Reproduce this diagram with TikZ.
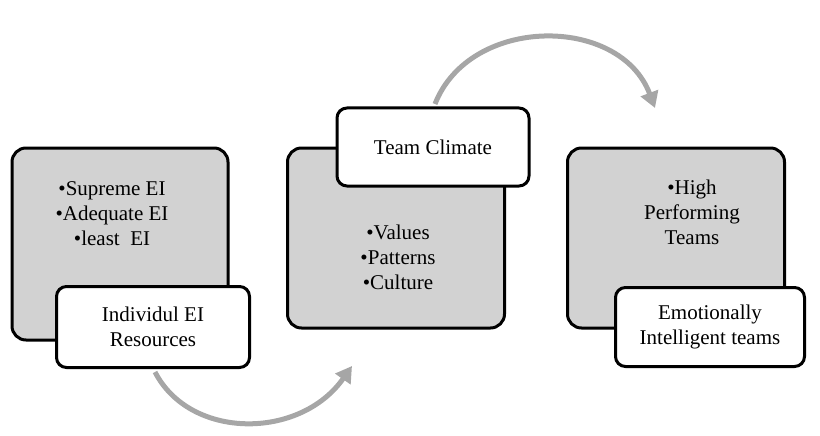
\documentclass[tikz,border=0pt]{standalone}
\usepackage{fontspec}
\setmainfont{Liberation Serif}
\usetikzlibrary{arrows.meta}
\begin{document}
\begin{tikzpicture}[x=1pt,y=-1pt,
 gbox/.style={draw=black,line width=3pt,fill=gray!35,rounded corners=14pt},
 wbox/.style={draw=black,line width=3pt,fill=white,rounded corners=10pt,align=center,font=\fontsize{21}{25}\selectfont},
 txt/.style={align=center,font=\fontsize{21}{25}\selectfont},
 arr/.style={draw=gray!70,line width=5pt,-{Triangle[length=16pt,width=18pt]}}]
\useasboundingbox (0,0) rectangle (820,436);
% arrows
\draw[arr] (155,372) .. controls (190,440) and (300,440) .. (352,366) coordinate (a1);
\draw[arr] (435,104) .. controls (470,15) and (620,15) .. (655,108) coordinate (a2);
% boxes
\node[gbox,minimum width=216pt,minimum height=192pt] (g1) at (120,244) {};
\node[gbox,minimum width=217pt,minimum height=180pt] (g2) at (396,238) {};
\node[gbox,minimum width=217pt,minimum height=180pt] (g3) at (676,238) {};
\node[txt] (t1) at (112,214) {•Supreme EI\\•Adequate EI\\•least\ \ EI};
\node[txt] (t2) at (398,257) {•Values\\•Patterns\\•Culture};
\node[txt] (t3) at (692,212) {•High\\Performing\\Teams};
\node[wbox,minimum width=193pt,minimum height=81pt] (w1) at (153,327) {Individul EI\\Resources};
\node[wbox,minimum width=192pt,minimum height=78pt] (w2) at (433,147) {Team Climate};
\node[wbox,minimum width=189pt,minimum height=79pt] (w3) at (710,327) {Emotionally\\Intelligent teams};
\end{tikzpicture}
\end{document}
